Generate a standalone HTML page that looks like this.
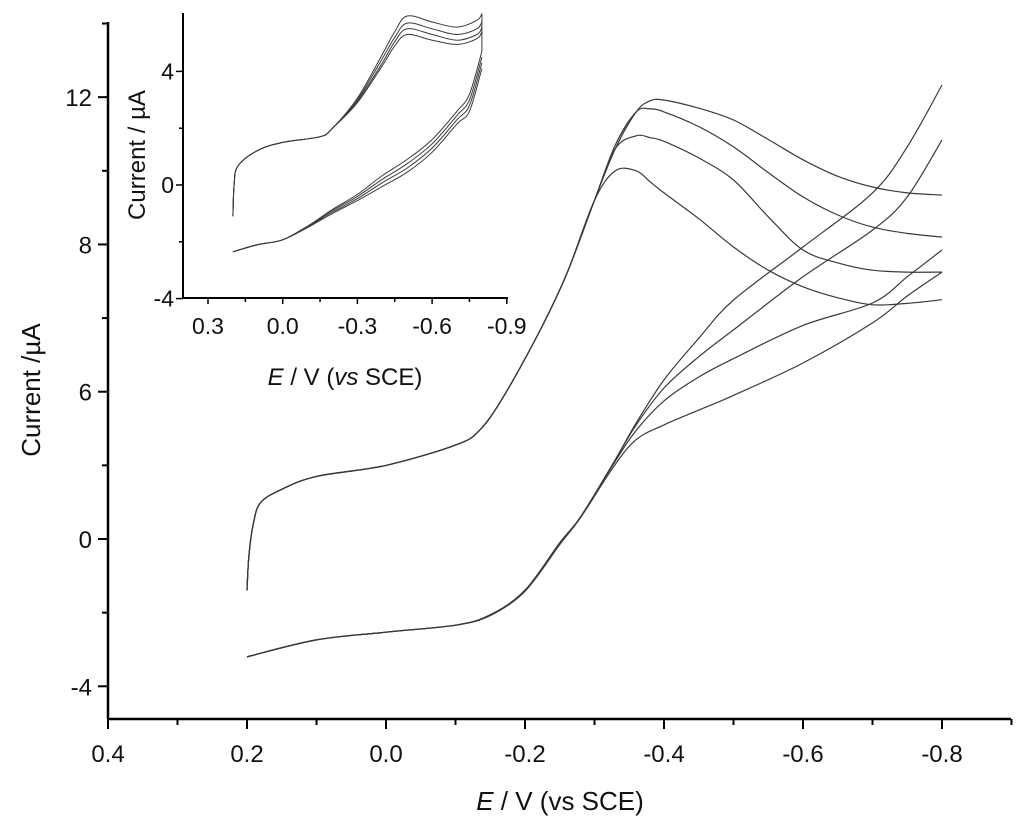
<!DOCTYPE html>
<html><head><meta charset="utf-8"><style>
html,body{margin:0;padding:0;background:#fff;}
svg{display:block;font-family:"Liberation Sans",Arial,sans-serif;}
</style></head><body>
<svg id="chart" width="1024" height="831" viewBox="0 0 1024 831"></svg>
<script>
// ---- main chart data ----
const mainXTicks = [0.4, 0.2, 0.0, -0.2, -0.4, -0.6, -0.8];
const mainXTickLabels = ["0.4", "0.2", "0.0", "-0.2", "-0.4", "-0.6", "-0.8"];
const mainYTicks = [12, 8, 4, 0, -4];
const mainYTickLabels = ["12", "8", "6", "0", "-4"];
const fwdCommonE = [0.2, 0.197, 0.19, 0.18, 0.15, 0.1, 0.0, -0.1, -0.135, -0.17, -0.222, -0.26, -0.3];
const fwdCommonI = [-1.4, -0.4, 0.5, 1.0, 1.35, 1.7, 2.0, 2.55, 2.96, 3.9, 5.68, 7.2, 9.2];
const fwdTailE = [-0.33, -0.36, -0.38, -0.4, -0.45, -0.5, -0.55, -0.6, -0.65, -0.7, -0.75, -0.8];
const fwdTailA = [10.6, 11.6, 11.9, 11.92, 11.7, 11.38, 10.85, 10.3, 9.85, 9.56, 9.4, 9.34];
const fwdTailB = [10.7, 11.6, 11.68, 11.6, 11.2, 10.65, 9.95, 9.29, 8.8, 8.47, 8.3, 8.2];
const fwdTailC = [10.6, 10.95, 10.9, 10.8, 10.35, 9.75, 8.75, 7.85, 7.5, 7.3, 7.25, 7.25];
const fwdTailD = [10.0, 10.0, 9.7, 9.4, 8.7, 7.93, 7.3, 6.85, 6.55, 6.36, 6.4, 6.5];
const revE = [-0.8, -0.75, -0.7, -0.6, -0.5, -0.45, -0.4, -0.36, -0.327, -0.28, -0.25, -0.2, -0.15, -0.1, 0.0, 0.1, 0.2];
const revA = [12.33, 10.65, 9.4, 7.93, 6.49, 5.45, 4.32, 3.15, 2.06, 0.6, -0.1, -1.39, -2.06, -2.34, -2.53, -2.74, -3.2];
const revB = [10.84, 9.29, 8.39, 7.12, 5.68, 4.95, 4.1, 3.1, 2.06, 0.6, -0.1, -1.39, -2.06, -2.34, -2.53, -2.74, -3.2];
const revC = [7.85, 7.12, 6.41, 5.8, 4.9, 4.4, 3.75, 2.95, 2.03, 0.6, -0.12, -1.4, -2.06, -2.34, -2.53, -2.74, -3.2];
const revD = [7.25, 6.6, 5.87, 4.78, 3.9, 3.5, 3.1, 2.7, 1.95, 0.58, -0.15, -1.42, -2.08, -2.34, -2.53, -2.74, -3.2];

// ---- inset data ----
const insetXTicks = [0.3, 0.0, -0.3, -0.6, -0.9];
const insetXTickLabels = ["0.3", "0.0", "-0.3", "-0.6", "-0.9"];
const insetYTicks = [4, 0, -4];
const insetYTickLabels = ["4", "0", "-4"];
const inFwdE = [0.2, 0.195, 0.18, 0.1, 0.0, -0.15, -0.2, -0.3, -0.4, -0.45, -0.5, -0.6, -0.7, -0.78, -0.8];
const inFwd1 = [-1.1, 0.0, 0.67, 1.22, 1.5, 1.7, 2.0, 3.06, 4.6, 5.4, 5.95, 5.74, 5.56, 5.8, 6.04];
const inFwd2 = [-1.1, 0.0, 0.67, 1.22, 1.5, 1.7, 2.0, 3.0, 4.45, 5.2, 5.7, 5.5, 5.3, 5.5, 5.75];
const inFwd3 = [-1.1, 0.0, 0.67, 1.22, 1.5, 1.7, 2.0, 2.95, 4.3, 5.05, 5.5, 5.3, 5.1, 5.3, 5.55];
const inFwd4 = [-1.1, 0.0, 0.67, 1.22, 1.5, 1.7, 2.0, 2.9, 4.2, 4.9, 5.3, 5.1, 4.95, 5.15, 5.4];
const inRevE = [-0.8, -0.75, -0.7, -0.6, -0.5, -0.4, -0.3, -0.2, -0.1, 0.0, 0.1, 0.2];
const inRev1 = [4.7, 3.2, 2.6, 1.6, 0.9, 0.33, -0.33, -0.86, -1.45, -1.93, -2.1, -2.35];
const inRev2 = [4.5, 3.0, 2.45, 1.45, 0.75, 0.2, -0.4, -0.9, -1.45, -1.93, -2.1, -2.35];
const inRev3 = [4.3, 2.8, 2.3, 1.3, 0.6, 0.08, -0.48, -0.95, -1.47, -1.93, -2.1, -2.35];
const inRev4 = [4.1, 2.6, 2.15, 1.15, 0.45, -0.05, -0.55, -1.0, -1.5, -1.93, -2.1, -2.35];

const NS = "http://www.w3.org/2000/svg";
const svg = document.getElementById("chart");
function mk(tag, attrs, parent) {
  const e = document.createElementNS(NS, tag);
  for (const k in attrs) e.setAttribute(k, attrs[k]);
  (parent || svg).appendChild(e);
  return e;
}
const mx = E => 108 + (0.4 - E) / 0.2 * 139;
const my = v => 539 - v * 36.82;
const ix = E => 208 + (0.3 - E) / 0.3 * 74.7;
const iy = v => 185 - v * 28.4;

function smoothPath(pts) {
  let d = "M" + pts[0][0].toFixed(1) + "," + pts[0][1].toFixed(1);
  for (let i = 0; i < pts.length - 1; i++) {
    const p0 = pts[i - 1] || pts[i], p1 = pts[i], p2 = pts[i + 1], p3 = pts[i + 2] || p2;
    const c1 = [p1[0] + (p2[0] - p0[0]) / 6, p1[1] + (p2[1] - p0[1]) / 6];
    const c2 = [p2[0] - (p3[0] - p1[0]) / 6, p2[1] - (p3[1] - p1[1]) / 6];
    d += "C" + c1[0].toFixed(1) + "," + c1[1].toFixed(1) + " " + c2[0].toFixed(1) + "," + c2[1].toFixed(1) + " " + p2[0].toFixed(1) + "," + p2[1].toFixed(1);
  }
  return d;
}
function curve(Es, Is, fx, fy, name, w) {
  const pts = Es.map((e, i) => [fx(e), fy(Is[i])]);
  const p = mk("path", {d: smoothPath(pts), fill: "none", stroke: "#3a3a3a", "stroke-width": w});
  
  
}

// ---- main axes ----
const gMain = mk("g", {});


const yAx = mk("line", {x1: 108, y1: 22, x2: 108, y2: 719, stroke: "#000", "stroke-width": 2.5}, gMain);


const xAx = mk("line", {x1: 107, y1: 719, x2: 1011, y2: 719, stroke: "#000", "stroke-width": 2.5}, gMain);


mainXTicks.forEach((t, i) => {
  mk("line", {x1: mx(t), y1: 719, x2: mx(t), y2: 729, stroke: "#000", "stroke-width": 2}, gMain);
  mk("line", {x1: mx(t - 0.1), y1: 719, x2: mx(t - 0.1), y2: 725, stroke: "#000", "stroke-width": 2}, gMain);
  const tx = mk("text", {x: mx(t), y: 762, "text-anchor": "middle", "font-size": 24, fill: "#111"}, gMain);
  tx.textContent = mainXTickLabels[i];
  
  
});
mainYTicks.forEach((t, i) => {
  mk("line", {x1: 98, y1: my(t), x2: 108, y2: my(t), stroke: "#000", "stroke-width": 2}, gMain);
  if (t > -4) mk("line", {x1: 102, y1: my(t - 2), x2: 108, y2: my(t - 2), stroke: "#000", "stroke-width": 2}, gMain);
  const tx = mk("text", {x: 92, y: my(t) + 9, "text-anchor": "end", "font-size": 24, fill: "#111"}, gMain);
  tx.textContent = mainYTickLabels[i];
  
  
});
mk("line", {x1: 102, y1: my(14), x2: 108, y2: my(14), stroke: "#000", "stroke-width": 2}, gMain);
const xt = mk("text", {x: 560, y: 810, "text-anchor": "middle", "font-size": 26, fill: "#111"}, gMain);
xt.innerHTML = '<tspan font-style="italic">E</tspan> / V (vs SCE)';


const yt = mk("text", {x: 0, y: 0, "text-anchor": "middle", "font-size": 26, fill: "#111", transform: "translate(40,390) rotate(-90)"}, gMain);
yt.textContent = "Current /µA";



// main series
[fwdTailA, fwdTailB, fwdTailC, fwdTailD].forEach((tail, k) => {
  curve(fwdCommonE.concat(fwdTailE), fwdCommonI.concat(tail), mx, my, "forward-scan-" + (k + 1), 1.2);
});
[revA, revB, revC, revD].forEach((r, k) => curve(revE, r, mx, my, "reverse-scan-" + (k + 1), 1.2));

// ---- inset ----
const gIn = mk("g", {});


const iyAx = mk("line", {x1: 183, y1: 13, x2: 183, y2: 298, stroke: "#000", "stroke-width": 2}, gIn);


const ixAx = mk("line", {x1: 182, y1: 298, x2: 508, y2: 298, stroke: "#000", "stroke-width": 2}, gIn);


insetXTicks.forEach((t, i) => {
  mk("line", {x1: ix(t), y1: 298, x2: ix(t), y2: 304, stroke: "#000", "stroke-width": 1.5}, gIn);
  if (t > -0.9) mk("line", {x1: ix(t - 0.15), y1: 298, x2: ix(t - 0.15), y2: 302, stroke: "#000", "stroke-width": 1.5}, gIn);
  const tx = mk("text", {x: ix(t), y: 334, "text-anchor": "middle", "font-size": 23, fill: "#111"}, gIn);
  tx.textContent = insetXTickLabels[i];
  
  
});
insetYTicks.forEach((t, i) => {
  mk("line", {x1: 176, y1: iy(t), x2: 183, y2: iy(t), stroke: "#000", "stroke-width": 1.5}, gIn);
  if (t < 4) mk("line", {x1: 179, y1: iy(t + 2), x2: 183, y2: iy(t + 2), stroke: "#000", "stroke-width": 1.5}, gIn);
  const tx = mk("text", {x: 174, y: iy(t) + 8, "text-anchor": "end", "font-size": 23, fill: "#111"}, gIn);
  tx.textContent = insetYTickLabels[i];
  
  
});
const ixt = mk("text", {x: 345, y: 385, "text-anchor": "middle", "font-size": 24, fill: "#111"}, gIn);
ixt.innerHTML = '<tspan font-style="italic">E</tspan> / V (<tspan font-style="italic">vs</tspan> SCE)';


const iyt = mk("text", {x: 0, y: 0, "text-anchor": "middle", "font-size": 24, fill: "#111", transform: "translate(145,155) rotate(-90)"}, gIn);
iyt.textContent = "Current / µA";


[inFwd1, inFwd2, inFwd3, inFwd4].forEach((s, k) => curve(inFwdE, s, ix, iy, "inset-forward-scan-" + (k + 1), 1));
[inRev1, inRev2, inRev3, inRev4].forEach((s, k) => curve(inRevE, s, ix, iy, "inset-reverse-scan-" + (k + 1), 1));
const vl = mk("line", {x1: ix(-0.8), y1: iy(inFwd1[inFwd1.length - 1]), x2: ix(-0.8), y2: iy(inRev1[0]), stroke: "#3a3a3a", "stroke-width": 1});


</script>
</body></html>
